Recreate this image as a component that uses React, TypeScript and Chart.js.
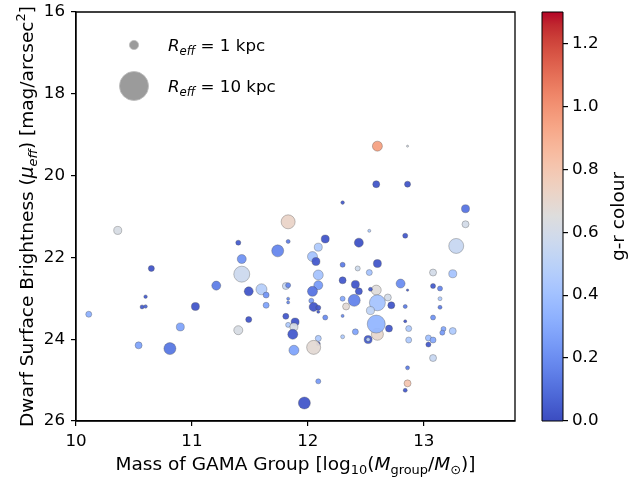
import { useEffect, useRef } from 'react';
import { Chart, registerables } from 'chart.js';

Chart.register(...registerables);

// ---- data ----
const groupMass = [
  10.36, 10.65, 11.21, 10.60, 10.57, 10.60, 11.03, 10.11, 10.90, 10.54,
  10.81, 12.30, 11.83, 11.40, 11.83, 12.15, 12.44, 12.53, 11.74, 12.09,
  12.04, 12.07, 11.43, 11.43, 12.09, 12.09, 12.04, 11.49, 11.60, 11.64,
  11.81, 11.83, 12.30, 12.43, 12.30, 12.41, 12.44, 12.40, 12.33, 12.03,
  12.05, 12.09, 12.09, 11.83, 11.83, 12.15, 12.30, 12.30, 11.81, 11.49,
  11.89, 11.83, 11.88, 11.87, 11.40, 12.09, 12.09, 12.05, 11.88, 12.41,
  12.30, 12.52, 12.52, 12.09, 11.97, 12.60, 12.86, 12.59, 12.86, 13.36,
  13.36, 13.28, 12.84, 12.60, 12.53, 13.08, 13.25, 12.80, 12.86, 13.08,
  13.14, 12.59, 12.69, 13.14, 12.60, 12.72, 12.54, 12.84, 13.14, 13.08,
  12.84, 12.60, 12.59, 12.70, 12.87, 12.87, 13.04, 13.08, 13.04, 13.17,
  13.16, 13.25, 13.08, 12.86, 12.86, 12.84, 12.54, 11.64,
];
const surfBright = [
  21.34, 22.27, 22.69, 22.96, 23.21, 23.20, 23.20, 23.39, 23.70, 24.15,
  24.23, 20.66, 21.13, 21.64, 21.61, 21.55, 21.64, 21.35, 21.84, 21.75,
  21.98, 22.10, 22.04, 22.41, 22.43, 22.68, 22.83, 22.83, 22.78, 22.92,
  22.70, 22.68, 22.18, 22.27, 22.56, 22.66, 22.83, 23.05, 23.20, 23.06,
  23.21, 23.23, 23.33, 23.01, 23.10, 23.47, 23.01, 23.43, 23.44, 23.52,
  23.58, 23.65, 23.70, 23.88, 23.78, 23.98, 24.11, 24.20, 24.27, 23.82,
  23.94, 24.01, 24.01, 25.03, 25.56, 19.28, 19.28, 20.21, 20.21, 20.81,
  21.19, 21.72, 21.47, 22.15, 22.37, 22.37, 22.40, 22.64, 22.80, 22.70,
  22.76, 22.80, 22.98, 23.01, 23.11, 23.17, 23.30, 23.20, 23.22, 23.47,
  23.56, 23.88, 23.63, 23.74, 23.74, 24.02, 23.97, 24.02, 24.13, 23.75,
  23.84, 23.80, 24.46, 24.70, 25.08, 25.25, 22.78, 23.17,
];
const reffKpc = [
  0.76, 0.43, 0.96, 0.15, 0.19, 0.15, 0.76, 0.43, 0.76, 0.58,
  1.7, 0.15, 2.32, 0.3, 0.19, 0.76, 0.96, 0.11, 1.7, 0.76,
  1.18, 0.76, 0.96, 3.02, 1.18, 0.96, 1.18, 0.96, 1.43, 0.43,
  0.58, 0.3, 0.3, 0.3, 0.58, 0.76, 0.58, 1.7, 0.58, 0.3,
  0.96, 0.3, 0.11, 0.11, 0.11, 0.3, 0.3, 0.11, 0.43, 0.43,
  0.76, 0.3, 0.76, 1.18, 0.96, 0.43, 0.19, 2.32, 1.18, 0.43,
  0.19, 0.76, 0.19, 0.3, 1.7, 1.18, 0.05, 0.58, 0.43, 0.76,
  0.58, 2.66, 0.3, 0.76, 0.43, 0.58, 0.76, 0.96, 0.07, 0.3,
  0.3, 1.18, 0.58, 0.19, 3.02, 0.58, 0.76, 0.19, 0.19, 0.3,
  0.11, 1.7, 3.83, 0.58, 0.43, 0.43, 0.43, 0.43, 0.3, 0.3,
  0.3, 0.58, 0.58, 0.19, 0.58, 0.19, 0.19, 0.43,
];
const grColour = [
  0.62, 0.03, 0.15, 0.05, 0.05, 0.08, 0.03, 0.33, 0.28, 0.28,
  0.13, 0.05, 0.72, 0.05, 0.15, 0.03, 0.02, 0.45, 0.18, 0.45,
  0.42, 0.04, 0.22, 0.57, 0.42, 0.25, 0.12, 0.03, 0.48, 0.22,
  0.55, 0.18, 0.15, 0.58, 0.04, 0.03, 0.04, 0.17, 0.68, 0.25,
  0.03, 0.04, 0.05, 0.2, 0.2, 0.2, 0.3, 0.2, 0.04, 0.03,
  0.03, 0.45, 0.62, 0.04, 0.62, 0.45, 0.04, 0.68, 0.28, 0.28,
  0.45, 0.05, 0.5, 0.25, 0.03, 0.95, 0.6, 0.03, 0.03, 0.12,
  0.6, 0.55, 0.04, 0.03, 0.42, 0.6, 0.42, 0.2, 0.05, 0.05,
  0.18, 0.66, 0.6, 0.45, 0.42, 0.03, 0.52, 0.15, 0.15, 0.22,
  0.04, 0.7, 0.35, 0.04, 0.45, 0.45, 0.4, 0.3, 0.04, 0.3,
  0.25, 0.45, 0.55, 0.15, 0.8, 0.04, 0.05, 0.28,
];

const xTicks = [10, 11, 12, 13];
const yTicks = [16, 18, 20, 22, 24, 26];
const cbTicks = [0, 0.2, 0.4, 0.6, 0.8, 1.0, 1.2];
const legendReff = [1, 10];
const legendLabels = [' = 1 kpc', ' = 10 kpc'];

const X_MIN = 10;
const X_MAX = 13.787;
const Y_MIN = 16;
const Y_MAX = 26;
const GR_MIN = 0;
const GR_MAX = 1.3;

// matplotlib "coolwarm" colour map samples
const coolwarm: number[][] = [
  [59, 76, 192], [68, 90, 204], [77, 104, 215], [87, 117, 225], [98, 130, 234],
  [108, 142, 241], [119, 154, 247], [130, 165, 251], [141, 176, 254], [152, 185, 255],
  [163, 194, 255], [174, 201, 253], [184, 208, 249], [194, 213, 244], [204, 217, 238],
  [213, 219, 230], [221, 221, 221], [229, 216, 209], [236, 211, 197], [241, 204, 185],
  [245, 196, 173], [247, 187, 160], [247, 177, 148], [247, 166, 135], [244, 154, 123],
  [241, 141, 111], [236, 127, 99], [229, 112, 88], [222, 96, 77], [213, 80, 66],
  [203, 62, 56], [192, 40, 47], [180, 4, 38],
];

const FONT = '"DejaVu Sans", "Liberation Sans", sans-serif';
const BASE = 16.7;
const TITLE = 18.5;

function cmap(v: number, alpha = 1): string {
  let t = (v - GR_MIN) / (GR_MAX - GR_MIN);
  t = Math.max(0, Math.min(1, t));
  const f = t * (coolwarm.length - 1);
  const i = Math.min(coolwarm.length - 2, Math.floor(f));
  const u = f - i;
  const a = coolwarm[i];
  const b = coolwarm[i + 1];
  const c = a.map((x, k) => Math.round(x + (b[k] - x) * u));
  return `rgba(${c[0]},${c[1]},${c[2]},${alpha})`;
}

const markerRadius = (r: number) => 4.6 * Math.sqrt(r);

type Seg = { t: string; it?: boolean; sub?: boolean; sup?: boolean };

function segFont(s: Seg, base: number) {
  const size = s.sub || s.sup ? base * 0.7 : base;
  return `${s.it ? 'italic ' : ''}${size}px ${FONT}`;
}

function drawRich(ctx: CanvasRenderingContext2D, segs: Seg[], x: number, y: number, base: number, align: 'left' | 'center') {
  let total = 0;
  const widths = segs.map((s) => {
    ctx.font = segFont(s, base);
    const w = ctx.measureText(s.t).width;
    total += w;
    return w;
  });
  let cx = align === 'center' ? x - total / 2 : x;
  ctx.textAlign = 'left';
  ctx.textBaseline = 'alphabetic';
  segs.forEach((s, i) => {
    ctx.font = segFont(s, base);
    const dy = s.sub ? base * 0.22 : s.sup ? -base * 0.42 : 0;
    ctx.fillText(s.t, cx, y + dy);
    cx += widths[i];
  });
}

const xTitle: Seg[] = [
  { t: 'Mass of GAMA Group [log' },
  { t: '10', sub: true },
  { t: '(' },
  { t: 'M', it: true },
  { t: 'group', sub: true },
  { t: '/' },
  { t: 'M', it: true },
  { t: '\u2299', sub: true },
  { t: ')]' },
];
const yTitle: Seg[] = [
  { t: 'Dwarf Surface Brightness (' },
  { t: '\u03bc', it: true },
  { t: 'eff', it: true, sub: true },
  { t: ') [mag/arcsec' },
  { t: '2', sup: true },
  { t: ']' },
];
const cbTitle: Seg[] = [{ t: 'g-r colour' }];

const decorPlugin = {
  id: 'decor',
  afterDatasetsDraw(chart: any) {
    const { ctx, chartArea } = chart;
    const { left, right, top, bottom } = chartArea;
    ctx.save();
    // frame
    ctx.beginPath();
    ctx.strokeStyle = '#000000';
    ctx.lineWidth = 1.3;
    ctx.rect(left, top, right - left, bottom - top);
    ctx.stroke();

    // legend
    const lx = left + 58;
    const ly = [top + 33, top + 74];
    legendReff.forEach((r, i) => {
      ctx.beginPath();
      ctx.arc(lx, ly[i], markerRadius(r), 0, Math.PI * 2);
      ctx.fillStyle = 'rgba(155,155,155,1)';
      ctx.fill();
      ctx.strokeStyle = 'rgba(190,190,190,1)';
      ctx.lineWidth = 0.8;
      ctx.stroke();
      ctx.fillStyle = '#000';
      drawRich(ctx, [{ t: 'R', it: true }, { t: 'eff', it: true, sub: true }, { t: legendLabels[i] }], left + 92, ly[i] + 6, BASE, 'left');
    });

    // colour bar
    const cb = chart.scales.cb;
    const cbRight = cb.left;
    const cbLeft = cbRight - 21;
    const y0 = cb.getPixelForValue(GR_MIN);
    const y1 = cb.getPixelForValue(GR_MAX);
    const grad = ctx.createLinearGradient(0, y0, 0, y1);
    coolwarm.forEach((c, i) => {
      grad.addColorStop(i / (coolwarm.length - 1), `rgb(${c[0]},${c[1]},${c[2]})`);
    });
    ctx.fillStyle = grad;
    ctx.fillRect(cbLeft, y1, cbRight - cbLeft, y0 - y1);
    ctx.beginPath();
    ctx.strokeStyle = '#000000';
    ctx.lineWidth = 1;
    ctx.rect(cbLeft, y1, cbRight - cbLeft, y0 - y1);
    ctx.stroke();

    // titles
    ctx.fillStyle = '#000';
    drawRich(ctx, xTitle, (left + right) / 2, 470, TITLE, 'center');
    ctx.save();
    ctx.translate(33, (top + bottom) / 2);
    ctx.rotate(-Math.PI / 2);
    drawRich(ctx, yTitle, 0, 0, TITLE, 'center');
    ctx.restore();
    ctx.save();
    ctx.translate(624, (top + bottom) / 2);
    ctx.rotate(-Math.PI / 2);
    drawRich(ctx, cbTitle, 0, 0, TITLE, 'center');
    ctx.restore();
    ctx.restore();
  },
};

const noVPad = (w: number) => (s: any) => {
  s.width = w;
  s.paddingTop = 0;
  s.paddingBottom = 0;
};

export default function App() {
  const ref = useRef<HTMLCanvasElement | null>(null);
  useEffect(() => {
    document.body.style.margin = '0';
    const canvas = ref.current;
    if (!canvas) return;
    const points = groupMass.map((m, i) => ({ x: m, y: surfBright[i] }));
    const tickFont = { family: FONT, size: BASE };
    const chart = new Chart(canvas, {
      type: 'scatter',
      data: {
        datasets: [
          {
            data: points,
            pointRadius: (c: any) => markerRadius(reffKpc[c.dataIndex] ?? 0),
            pointHoverRadius: (c: any) => markerRadius(reffKpc[c.dataIndex] ?? 0),
            backgroundColor: (c: any) => cmap(grColour[c.dataIndex] ?? 0, 0.95),
            borderColor: 'rgba(70,70,70,0.55)',
            borderWidth: 0.6,
          },
        ],
      },
      options: {
        animation: false,
        responsive: true,
        maintainAspectRatio: false,
        layout: { padding: { top: 12, left: 0, right: 0, bottom: 0 } },
        plugins: { legend: { display: false }, tooltip: { enabled: false } },
        scales: {
          x: {
            type: 'linear',
            position: 'bottom',
            min: X_MIN,
            max: X_MAX,
            afterBuildTicks: (s: any) => { s.ticks = xTicks.map((v) => ({ value: v })); },
            afterFit: (s: any) => { s.height = 58; s.paddingLeft = 0; s.paddingRight = 0; },
            ticks: { font: tickFont, color: '#000', padding: 6, maxRotation: 0, callback: (v: any) => String(v) },
            grid: { display: true, drawOnChartArea: false, drawTicks: true, tickLength: 5, color: '#000', lineWidth: 1.2 },
            border: { display: true, color: '#000', width: 1.3 },
          },
          y: {
            type: 'linear',
            position: 'left',
            reverse: true,
            min: Y_MIN,
            max: Y_MAX,
            afterBuildTicks: (s: any) => { s.ticks = yTicks.map((v) => ({ value: v })); },
            afterFit: noVPad(76),
            ticks: { font: tickFont, color: '#000', padding: 6, callback: (v: any) => String(v) },
            grid: { display: true, drawOnChartArea: false, drawTicks: true, tickLength: 5, color: '#000', lineWidth: 1.2 },
            border: { display: true, color: '#000', width: 1.3 },
          },
          spacer: {
            type: 'linear',
            position: 'right',
            weight: 0,
            afterFit: noVPad(48),
            ticks: { display: false },
            grid: { display: false },
            border: { display: false },
          },
          cb: {
            type: 'linear',
            position: 'right',
            weight: 1,
            min: GR_MIN,
            max: GR_MAX,
            afterBuildTicks: (s: any) => { s.ticks = cbTicks.map((v) => ({ value: v })); },
            afterFit: noVPad(80),
            ticks: { font: tickFont, color: '#000', padding: 4, callback: (v: any) => Number(v).toFixed(1) },
            grid: { display: true, drawOnChartArea: false, drawTicks: true, tickLength: 5, color: '#000', lineWidth: 1.2 },
            border: { display: false },
          },
        },
      },
      plugins: [decorPlugin],
    } as any);
    return () => chart.destroy();
  }, []);
  return (
    <div style={{ width: 643, height: 479, position: 'relative' }}>
      <canvas ref={ref} />
    </div>
  );
}
